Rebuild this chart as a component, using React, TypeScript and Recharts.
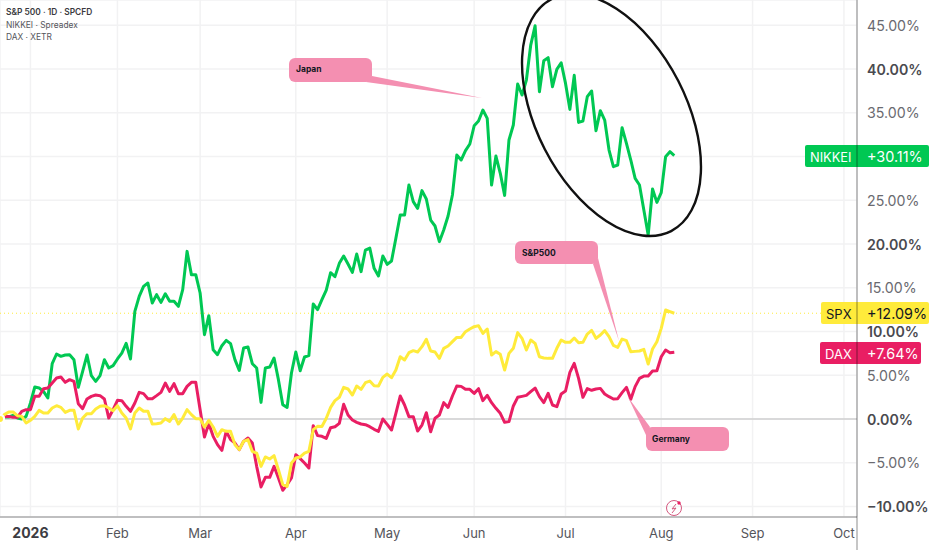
import React from 'react';
import { LineChart, Line, XAxis, YAxis, CartesianGrid, ReferenceLine } from 'recharts';

// percent change per daily bar
const nikkei = [
  0, 0.23, 0.23, 0.42, 0.11, 0, 0.3, 1.83, 3.66, 3.54, 3.16, 2.4, 6.32, 7.43, 7.16, 7.31, 7.35, 6.78, 3.62, 5.45,
  7.31, 4.95, 4.3, 4.95, 6.78, 5.83, 6.1, 6.86, 7.54, 8.65, 6.86, 12.3, 14.02, 15.16, 15.54, 13.26, 14.21, 13.33, 14.32, 13.45,
  13.45, 12.88, 14.78, 19.16, 16.5, 16.5, 14.4, 9.64, 11.81, 7.92, 7.35, 8.38, 8.99, 8.61, 6.78, 5.56, 8.11, 8.23, 6.32, 5.83,
  1.9, 5.83, 5.94, 6.97, 4.5, 1.64, 1.33, 5.26, 7.66, 5.52, 7.09, 7.24, 13.14, 12.5, 13.64, 14.74, 16.72, 16.27, 17.79, 18.63,
  17.71, 16.76, 18.86, 16.84, 19.31, 19.54, 17.22, 16.34, 18.63, 17.68, 18.06, 20.65, 23.31, 23.31, 26.74, 24.84, 24.08, 26.1, 25.14, 22.74,
  22.06, 20.27, 21.6, 23.2, 25.6, 30.17, 29.6, 30.67, 31.43, 33.52, 34.06, 35.31, 34.36, 26.74, 30.06, 28.08, 25.56, 31.89, 33.6, 38.29,
  37.03, 38.74, 42.74, 44.95, 37.41, 40.95, 41.3, 37.98, 39.96, 40.72, 38.36, 35.39, 39.28, 33.9, 34.06, 36.84, 37.49, 32.95, 35.24, 34.17,
  30.74, 28.84, 29.03, 33.3, 31.5, 29.6, 27.5, 26.74, 23.89, 21.03, 26.29, 24.76, 25.87, 29.98, 30.55, 30.11,
];
const dax = [
  0, 0.3, 0.3, 0.19, 0.19, 0.88, 1.07, 1.07, 2.59, 2.59, 3.47, 3.54, 4.11, 4.69, 4.8, 4.19, 4.5, 4.3, 1.75, 1.18,
  2.29, 2.59, 2.74, 2.67, 2.29, 0.11, 1.07, 2.13, 2.1, 1.45, 0.88, 1.83, 3.05, 2.9, 2.32, 2.32, 2.67, 3.05, 4.11, 3.16,
  4.04, 2.9, 2.9, 3.73, 4.19, 4.19, 1.07, -2.06, -0.53, -1.98, -2.93, -3.58, -1.41, -2.36, -2.74, -3.5, -2.55, -2.17, -2.74, -5.41,
  -7.77, -6.67, -6.67, -5.41, -6.74, -8.15, -7.5, -6.74, -4.08, -4.53, -5.03, -5.6, -0.76, -1.9, -1.98, -2.21, -0.99, -0.88, -0.5, 1.68,
  0.46, -0.11, -0.38, -0.57, -0.65, -0.88, -1.18, -1.41, 0, -0.61, -1.26, 0.65, 2.63, 1.6, 0.27, 0.27, -1.37, -0.69, 0.72, -1.45,
  0.08, 0.46, 1.87, 1.33, 2.63, 3.77, 3.73, 3.39, 3.39, 2.93, 3.47, 2.1, 2.7, 1.87, 1.22, 0.65, -0.38, -0.3, 1.49, 2.48,
  2.59, 2.7, 3.12, 3.54, 2.55, 1.87, 2.93, 1.6, 1.41, 2.86, 3.2, 5.33, 6.36, 4.65, 2.48, 3.47, 3.28, 3.43, 3.5, 2.86,
  2.55, 2.29, 2.32, 3.01, 3.62, 2.25, 3.7, 4.65, 4.91, 4.91, 5.49, 5.52, 7.12, 7.89, 7.58, 7.64,
];
const spx = [
  0, 0.5, 0.8, 0.8, 0.38, 0.3, -0.46, -0.15, 0.3, 0.99, 0.69, 0.69, 1.26, 1.52, 1.33, 0.76, 0.99, 0.99, -1.14, 0.11,
  0.61, 0.61, 1.14, 1.45, 1.52, 1.26, 0.95, 1.52, 0.69, 0.11, -1.14, 0.69, 1.26, 0.88, 0.88, -0.57, -0.53, -0.46, 0.04, -0.27,
  0.5, -0.57, 0.11, 1.07, 0.5, 0.04, 0.04, -0.91, -0.15, -0.91, -1.98, -1.22, -1.41, -1.41, -2.93, -3.5, -2.55, -2.36, -3.7, -3.89,
  -5.41, -4.34, -4.57, -4.19, -5.79, -7.5, -7.7, -5.03, -4.46, -4.34, -3.89, -3.7, -1.22, -0.84, -0.85, 0.08, 1.33, 2.1, 2.48, 3.62,
  3.43, 2.74, 3.77, 3.39, 4.15, 4.34, 3.81, 3.77, 4.76, 5.14, 4.72, 5.6, 7.12, 6.74, 7.58, 7.81, 7.66, 8.27, 9.1, 7.77,
  7.66, 6.93, 8.08, 8.34, 8.84, 9.33, 9.33, 9.98, 10.29, 10.55, 10.67, 9.79, 10.29, 7.31, 7.7, 7.39, 5.6, 7.5, 8.08, 9.87,
  9.22, 7.89, 9.03, 8.65, 7.12, 6.97, 6.93, 6.93, 8.08, 9.03, 8.76, 8.76, 9.26, 8.72, 8.76, 9.71, 10.13, 9.22, 9.6, 10.1,
  9.41, 8.42, 8.19, 9.14, 8.95, 7.7, 7.73, 7.77, 7.96, 6.29, 8, 8.84, 10.36, 12.46, 12.27, 12.09,
];

const monthBars = [7, 27, 46, 68, 89, 109, 130, 152, 173, 194];
const monthLabels = ['2026', 'Feb', 'Mar', 'Apr', 'May', 'Jun', 'Jul', 'Aug', 'Sep', 'Oct'];
const percentTicks = [-10, -5, 0, 5, 10, 15, 20, 25, 30, 35, 40, 45];
const boldTicks = [-10, 0, 10, 20, 40];
const legendLines = ['S&P 500 · 1D · SPCFD', 'NIKKEI · Spreadex', 'DAX · XETR'];

const chartData = nikkei.map((v, i) => ({ bar: i, nikkei: v, dax: dax[i], spx: spx[i] }));

const GREEN = '#00c853';
const RED = '#e91e63';
const YELLOW = '#ffeb3b';
const PINK = '#f48fb1';
const FONT = 'Inter, "Noto Sans", sans-serif';

const formatPercent = (v: number) => `${v < 0 ? '\u2212' : ''}${Math.abs(v).toFixed(2)}%`;

const MonthTick = ({ x, y, payload }: any) => {
  const i = monthBars.indexOf(payload.value);
  const isYear = i === 0;
  return (
    <text x={x} y={y + 13} textAnchor="middle" fontFamily={FONT} fontSize={isYear ? 14 : 13}
      fontWeight={isYear ? 700 : 400} fill={isYear ? '#3c3c42' : '#55555b'}>
      {monthLabels[i]}
    </text>
  );
};

const PercentTick = ({ x, y, payload }: any) => {
  // 30% sits under the NIKKEI price tag
  if (payload.value === 30) return null;
  const bold = boldTicks.includes(payload.value);
  return (
    <text x={x + 2} y={y + 5.5} fontFamily={FONT} fontSize={14.2} fontWeight={bold ? 600 : 400}
      fill={bold ? '#4a4a4f' : '#6a6a70'}>
      {formatPercent(payload.value)}
    </text>
  );
};

// the drawing tools and price tags that sit on top of the chart
const Overlay = () => (
  <svg width={932} height={550} style={{ position: 'absolute', left: 0, top: 0, pointerEvents: 'none' }}>
    <g fontFamily={FONT}>
      <text x={6} y={15} fontSize={8.4} fontWeight={600} fill="#3a3a40">{legendLines[0]}</text>
      <text x={6} y={28} fontSize={8.4} fill="#55555b">{legendLines[1]}</text>
      <text x={6} y={40} fontSize={8.4} fill="#55555b">{legendLines[2]}</text>
    </g>

    <ellipse cx={611.5} cy={115} rx={75} ry={130.5} transform="rotate(-27.2 611.5 115)" fill="none" stroke="#111" strokeWidth={2.4} />

    <g fill={PINK}>
      <path d="M372 76 L482 98 L366 82 Z" />
      <rect x={289} y={58} width={83} height={24} rx={6} />
      <path d="M598 258 L619 341 L593 264 Z" />
      <rect x={515} y={241} width={83} height={23} rx={6} />
      <path d="M628 397 L650 427 L646 435 Z" />
      <rect x={646} y={427} width={83} height={24} rx={6} />
    </g>
    <g fontFamily={FONT} fontSize={8.5} fontWeight={700} fill="#131722">
      <text x={296} y={72}>Japan</text>
      <text x={522} y={256}>S&amp;P500</text>
      <text x={652} y={442}>Germany</text>
    </g>

    <g fontFamily={FONT} fontSize={14.4}>
      <rect x={805} y={145} width={124} height={22} rx={2} fill={GREEN} />
      <text x={810} y={161.5} fontSize={12.8} fill="#fff">NIKKEI</text>
      <text x={867} y={161.5} fill="#fff">+30.11%</text>
      <rect x={821} y={302} width={108} height={22} rx={2} fill={YELLOW} />
      <text x={826} y={318.5} fontSize={13} fill="#131722">SPX</text>
      <text x={867} y={318.5} fill="#131722">+12.09%</text>
      <rect x={820} y={342} width={101} height={22} rx={2} fill={RED} />
      <text x={825} y={358.5} fontSize={13} fill="#fff">DAX</text>
      <text x={867} y={358.5} fill="#fff">+7.64%</text>
    </g>
    <line x1={857} y1={0} x2={857} y2={550} stroke="#000" strokeOpacity={0.3} strokeWidth={1.5} />

    <g fill="none" stroke="#d4587f" strokeWidth={1}>
      <circle cx={674} cy={508} r={7.5} />
      <path d="M676 504 L672 509 L676 508 L672 513" />
    </g>
    <circle cx={679} cy={503} r={1.7} fill={RED} />
  </svg>
);

export default function App() {
  return (
    <div style={{ position: 'absolute', left: 0, top: 0, width: 932, height: 550, background: '#fff', overflow: 'hidden' }}>
      <LineChart width={932} height={550} data={chartData} margin={{ top: 0, right: 0, bottom: 0, left: 0 }}>
        <CartesianGrid stroke="#f2f2f3" strokeWidth={1.5} />
        <XAxis dataKey="bar" type="number" domain={[0, 197]} ticks={monthBars} height={33} interval={0}
          axisLine={{ stroke: '#8a8a8a', strokeWidth: 1.2 }} tickLine={false} tick={<MonthTick />} />
        <YAxis orientation="right" type="number" domain={[-11.2, 47.89]} ticks={percentTicks} width={75} interval={0}
          axisLine={false} tickLine={false} tick={<PercentTick />} />
        <ReferenceLine y={0} stroke="#bdbdbd" strokeWidth={1.2} />
        <ReferenceLine y={12.09} stroke={YELLOW} strokeWidth={1} strokeDasharray="1 3" />
        <Line dataKey="nikkei" stroke={GREEN} strokeWidth={3} dot={false} isAnimationActive={false} strokeLinejoin="round" />
        <Line dataKey="dax" stroke={RED} strokeWidth={3} dot={false} isAnimationActive={false} strokeLinejoin="round" />
        <Line dataKey="spx" stroke={YELLOW} strokeWidth={3} dot={false} isAnimationActive={false} strokeLinejoin="round" />
      </LineChart>
      <Overlay />
    </div>
  );
}
